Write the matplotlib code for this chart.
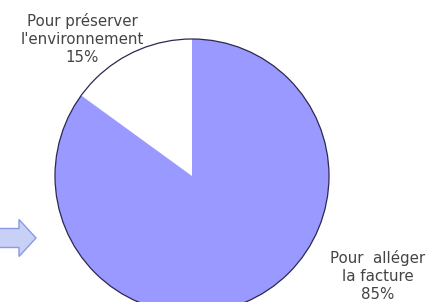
import matplotlib
matplotlib.use("Agg")
import matplotlib.pyplot as plt
from matplotlib.patches import Circle, FancyArrow

categories = ["Pour préserver\nl'environnement", "Pour  alléger\nla facture"]
values = [15, 85]
colors = ["#FFFFFF", "#9999FF"]

W, H = 432, 302
fig = plt.figure(figsize=(W / 100, H / 100), dpi=100)
ax = fig.add_axes([0, 0, 1, 1])
ax.set_xlim(0, W)
ax.set_ylim(0, H)
ax.set_aspect("equal")
ax.axis("off")

cx, cy, r = 192, H - 176, 137
wedges, _ = ax.pie(values, colors=colors, startangle=90, counterclock=True,
                   center=(cx, cy), radius=r, frame=True,
                   wedgeprops=dict(linewidth=0))
ax.set_xlim(0, W)
ax.set_ylim(0, H)
ax.axis("off")
ax.add_patch(Circle((cx, cy), r, fill=False, edgecolor="#2a2a50", linewidth=0.9))

label_pos = [(82, H - 39), (378, H - 276)]
for lab, v, (x, y) in zip(categories, values, label_pos):
    ax.text(x, y, f"{lab}\n{v}%", ha="center", va="center", fontsize=10.8,
            color="#444444", linespacing=1.22, family="DejaVu Sans")

ax.add_patch(FancyArrow(-3, H - 238, 22, 0, width=19, head_width=37,
                        head_length=17, length_includes_head=False,
                        facecolor="#c9d0f5", edgecolor="#8a98e6", linewidth=1.0))

fig.savefig("out.png", dpi=100)
